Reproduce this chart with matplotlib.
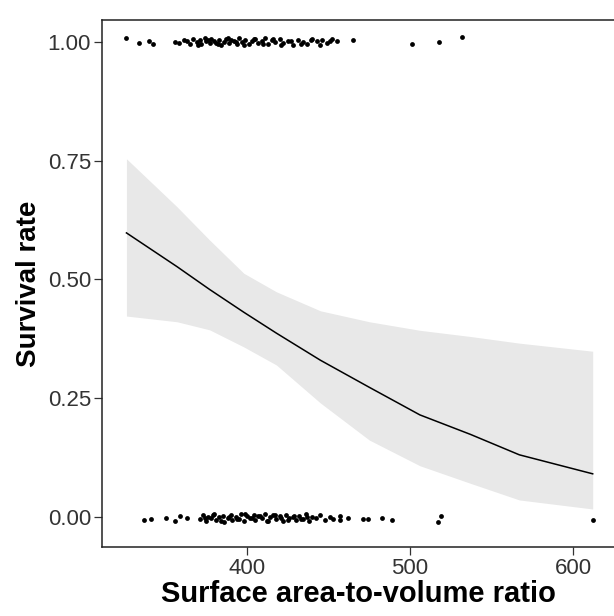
import numpy as np
import matplotlib.pyplot as plt

plt.rcParams['font.family'] = ['Liberation Sans', 'DejaVu Sans']

# fitted logistic curve and its confidence band
fit_x = [326, 357, 377, 398, 418, 445, 475, 506, 537, 567, 612]
fit_y = [0.598, 0.527, 0.479, 0.431, 0.387, 0.330, 0.273, 0.215, 0.174, 0.131, 0.091]
ci_hi = [0.754, 0.653, 0.583, 0.513, 0.474, 0.434, 0.411, 0.393, 0.380, 0.366, 0.349]
ci_lo = [0.423, 0.411, 0.394, 0.358, 0.320, 0.240, 0.162, 0.108, 0.071, 0.036, 0.017]

# survivors (jittered around 1)
alive_x = [326, 334, 340, 342, 356, 358, 361, 363, 365, 367, 369, 371, 372, 374,
           375, 377, 378, 380, 381, 383, 384, 386, 387, 389, 390, 392, 394, 395,
           397, 399, 401, 403, 405, 407, 409, 411, 413, 415, 417, 420, 422, 425,
           428, 431, 434, 437, 440, 443, 446, 449, 452, 455, 465, 501, 518, 532,
           370, 376, 382, 388, 393, 398, 404, 410, 416, 421, 427, 433, 439, 445, 451]
alive_y = [1.008, 0.998, 1.002, 0.996, 1.000, 0.997, 1.004, 1.001, 0.996, 1.007,
           0.999, 1.003, 0.995, 1.009, 1.001, 0.997, 1.006, 1.002, 0.998, 1.004,
           0.994, 1.000, 1.007, 0.997, 1.003, 1.001, 0.995, 1.008, 0.999, 1.004,
           0.996, 1.002, 1.006, 0.998, 1.001, 1.009, 0.995, 1.003, 0.999, 1.006,
           0.997, 1.002, 0.994, 1.004, 1.000, 0.996, 1.007, 1.001, 1.003, 0.998,
           1.005, 1.001, 1.004, 0.996, 1.000, 1.010,
           0.993, 1.004, 0.995, 1.008, 0.999, 0.994, 1.007, 0.996, 1.005, 0.993,
           1.001, 0.996, 1.004, 0.994, 1.002]

# deaths (jittered around 0)
dead_x = [337, 341, 350, 356, 359, 363, 371, 373, 375, 376, 378, 380, 381, 383,
          385, 386, 388, 390, 391, 393, 395, 396, 398, 400, 402, 404, 405, 407,
          409, 411, 413, 414, 416, 418, 420, 422, 424, 426, 428, 430, 432, 434,
          436, 438, 440, 442, 445, 448, 451, 453, 457, 457, 462, 471, 474, 483,
          489, 517, 519, 612,
          374, 379, 384, 389, 394, 399, 403, 408, 412, 417, 421, 425, 429, 433, 437]
dead_y = [-0.006, -0.004, -0.003, -0.008, 0.002, -0.002, -0.005, 0.004, -0.009,
          0.001, -0.003, 0.006, -0.007, 0.000, 0.003, -0.010, -0.002, 0.005,
          -0.006, 0.001, -0.004, 0.007, -0.008, 0.002, -0.001, 0.005, -0.007,
          0.003, -0.003, 0.006, -0.009, 0.000, 0.004, -0.005, 0.002, -0.008,
          0.005, -0.002, 0.001, -0.006, 0.003, -0.004, 0.006, -0.009, 0.000,
          -0.003, 0.004, -0.006, 0.001, -0.004, 0.003, -0.006, -0.002, -0.004,
          -0.005, -0.001, -0.007, -0.010, 0.002, -0.006,
          -0.002, 0.004, -0.008, 0.001, -0.005, 0.006, -0.003, 0.002, -0.009,
          0.005, -0.001, -0.007, 0.003, -0.004, 0.001]

fig = plt.figure(figsize=(6.14, 6.16), dpi=100)
ax = fig.add_axes([102 / 614, 69 / 616, 513.5 / 614, 527 / 616])

ax.fill_between(fit_x, ci_lo, ci_hi, color='#e8e8e8', lw=0)
ax.plot(fit_x, fit_y, color='black', lw=1.1)
ax.scatter(alive_x, alive_y, s=12, color='black', lw=0)
ax.scatter(dead_x, dead_y, s=12, color='black', lw=0)

ax.set_xlim(311, 626)
ax.set_ylim(-0.063, 1.046)
ax.set_xticks([400, 500, 600])
ax.set_yticks([0, 0.25, 0.5, 0.75, 1.0])
ax.set_yticklabels(['0.00', '0.25', '0.50', '0.75', '1.00'])
ax.tick_params(labelsize=16, labelcolor='#333333', length=6, width=0.9,
               color='#333333', pad=2)

for s in ax.spines.values():
    s.set_linewidth(1.1)
    s.set_color('#222222')

ax.set_xlabel('Surface area-to-volume ratio', fontsize=21, fontweight='bold', labelpad=1)
ax.set_ylabel('Survival rate', fontsize=20, fontweight='bold', labelpad=4)

fig.savefig('out.png', dpi=100)
